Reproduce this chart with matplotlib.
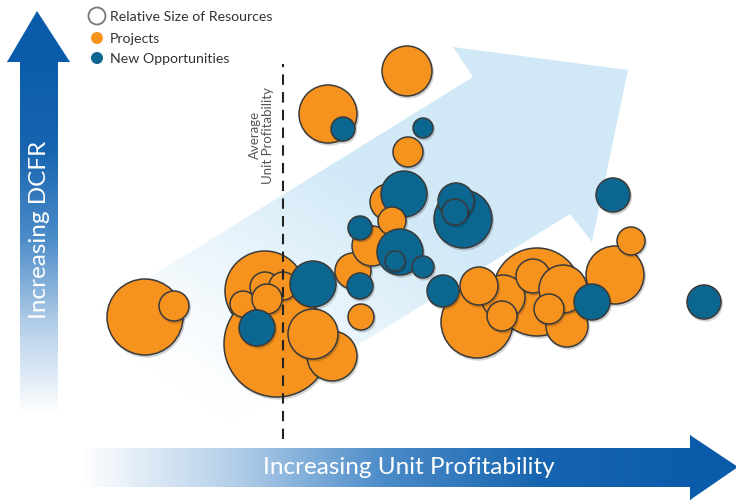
import numpy as np
import matplotlib
matplotlib.use("Agg")
import matplotlib.pyplot as plt
from matplotlib.patches import Circle, Polygon
from matplotlib.colors import LinearSegmentedColormap

plt.rcParams['font.family'] = ['Lato', 'DejaVu Sans']

# bubbles in drawing order: P = project, O = new opportunity
kind = ['P', 'P', 'P', 'P', 'P', 'P', 'P', 'P', 'O', 'P', 'P', 'O', 'P', 'O', 'P',
        'P', 'O', 'P', 'O', 'P', 'O', 'O', 'O', 'O', 'O', 'O',
        'P', 'P', 'O', 'O', 'P',
        'P', 'P', 'P', 'P', 'P', 'P', 'P', 'P', 'P', 'P', 'P', 'O', 'O', 'O', 'O']
profit = [145, 174, 265, 277, 243, 265, 283, 267, 257, 332, 313, 313, 353, 360, 361,
          372, 360, 388, 404, 392, 400, 395, 423, 463, 456, 455,
          407, 328, 343, 423, 408,
          477, 537, 503, 479, 502, 533, 567, 563, 549, 615, 631, 443, 592, 613, 704]
dcfr = [184, 195, 210, 157, 197, 214, 215, 202, 173, 145, 167, 217, 230, 215, 184,
        255, 273, 299, 307, 280, 249, 240, 234, 282, 300, 289,
        430, 387, 372, 373, 349,
        179, 209, 204, 215, 185, 225, 175, 212, 192, 226, 260, 210, 199, 306, 199]
size = [38, 15, 40, 53, 13, 15, 14, 15, 18, 25, 25, 23, 18, 13, 13,
        20, 12, 18, 23, 14, 23, 10, 11, 29, 18, 13,
        25, 29, 12, 10, 15,
        36, 44, 22, 19, 15, 17, 21, 24, 15, 29, 14, 16, 18, 17, 17]

avg_profit = 283
legend_labels = ['Relative Size of Resources', 'Projects', 'New Opportunities']

orange = '#f6931f'
blue = '#0b6790'
colors = {'P': orange, 'O': blue}

fig = plt.figure(figsize=(7.36, 5.02), dpi=100)
ax = fig.add_axes([0, 0, 1, 1])
ax.set_xlim(0, 736)
ax.set_ylim(0, 502)
ax.axis('off')

# light diagonal arrow in the background
arrow_pts = [(100, 193), (473, 424), (453, 454), (628, 431), (592, 259), (570, 287), (188, 51)]
bg = Polygon(arrow_pts, closed=True, facecolor='none', edgecolor='none')
ax.add_patch(bg)
gx, gy = np.meshgrid(np.arange(736) + 0.5, np.arange(502) + 0.5)
s = 0.55 * gx + 0.83 * gy
alpha = np.clip((s - 190) / (460 - 190), 0, 1) ** 1.2
rgba = np.zeros((502, 736, 4))
rgba[..., 0] = 0.82
rgba[..., 1] = 0.915
rgba[..., 2] = 0.972
rgba[..., 3] = alpha
im = ax.imshow(rgba, extent=[0, 736, 0, 502], origin='lower', aspect='auto', zorder=0)
im.set_clip_path(bg)

# axis arrows with gradient
cmap = LinearSegmentedColormap.from_list('arr', ['#ffffff', '#b4cfe9', '#4b8bc8', '#1765b0', '#0a5caa'])

ypoly = Polygon([(20, 87), (20, 439), (7, 439), (37, 490), (70, 439), (58, 439), (58, 87)],
                closed=True, facecolor='none', edgecolor='none')
ax.add_patch(ypoly)
vgrad = np.linspace(0, 1, 256).reshape(-1, 1)
imy = ax.imshow(vgrad, extent=[0, 80, 87, 441], origin='lower', aspect='auto', cmap=cmap, zorder=1)
imy.set_clip_path(ypoly)
ax.add_patch(Polygon([(7, 439), (37, 490), (70, 439)], closed=True, facecolor='#0a5caa',
                     edgecolor='none', zorder=1))

xpoly = Polygon([(80, 14), (690, 14), (690, 1), (738, 34), (690, 66), (690, 53), (80, 53)],
                closed=True, facecolor='none', edgecolor='none')
ax.add_patch(xpoly)
hgrad = np.linspace(0, 1, 256).reshape(1, -1)
imx = ax.imshow(hgrad, extent=[80, 692, 0, 70], origin='lower', aspect='auto', cmap=cmap, zorder=1)
imx.set_clip_path(xpoly)
ax.add_patch(Polygon([(690, 1), (738, 34), (690, 66)], closed=True, facecolor='#0a5caa',
                     edgecolor='none', zorder=1))

ax.text(40, 272, 'Increasing DCFR', rotation=90, color='white', fontsize=17.5,
        ha='center', va='center', zorder=2)
ax.text(409, 34, 'Increasing Unit Profitability', color='white', fontsize=17.5,
        ha='center', va='center', zorder=2)

# bubbles
for i in range(len(kind)):
    x, y, r = profit[i], dcfr[i], size[i]
    ax.add_patch(Circle((x + 1.2, y - 1.8), r + 0.8, facecolor='black', alpha=0.18,
                        edgecolor='none', zorder=3 + i * 2))
    ax.add_patch(Circle((x, y), r, facecolor=colors[kind[i]], edgecolor='#3a3a3a',
                        lw=1.1, zorder=4 + i * 2))

# average profitability line, drawn over the bubbles
ax.plot([avg_profit, avg_profit], [62, 437], color='#222222', lw=1.5,
        linestyle=(0, (5, 3.5)), zorder=150)
ax.text(avg_profit - 22, 367, 'Average\nUnit Profitability', rotation=90, color='#555555',
        fontsize=9.5, ha='center', va='center', linespacing=1.1, zorder=150)

# legend
ax.add_patch(Circle((97, 485), 8.5, facecolor='white', edgecolor='#777777', lw=1.3, zorder=200))
ax.add_patch(Circle((97, 463), 6, facecolor=orange, edgecolor='none', zorder=200))
ax.add_patch(Circle((97, 443), 6, facecolor=blue, edgecolor='none', zorder=200))
for lbl, yy in zip(legend_labels, [485, 463, 443]):
    ax.text(110, yy, lbl, color='#333333', fontsize=10.2, ha='left', va='center', zorder=200)

fig.savefig('out.png', dpi=100)
